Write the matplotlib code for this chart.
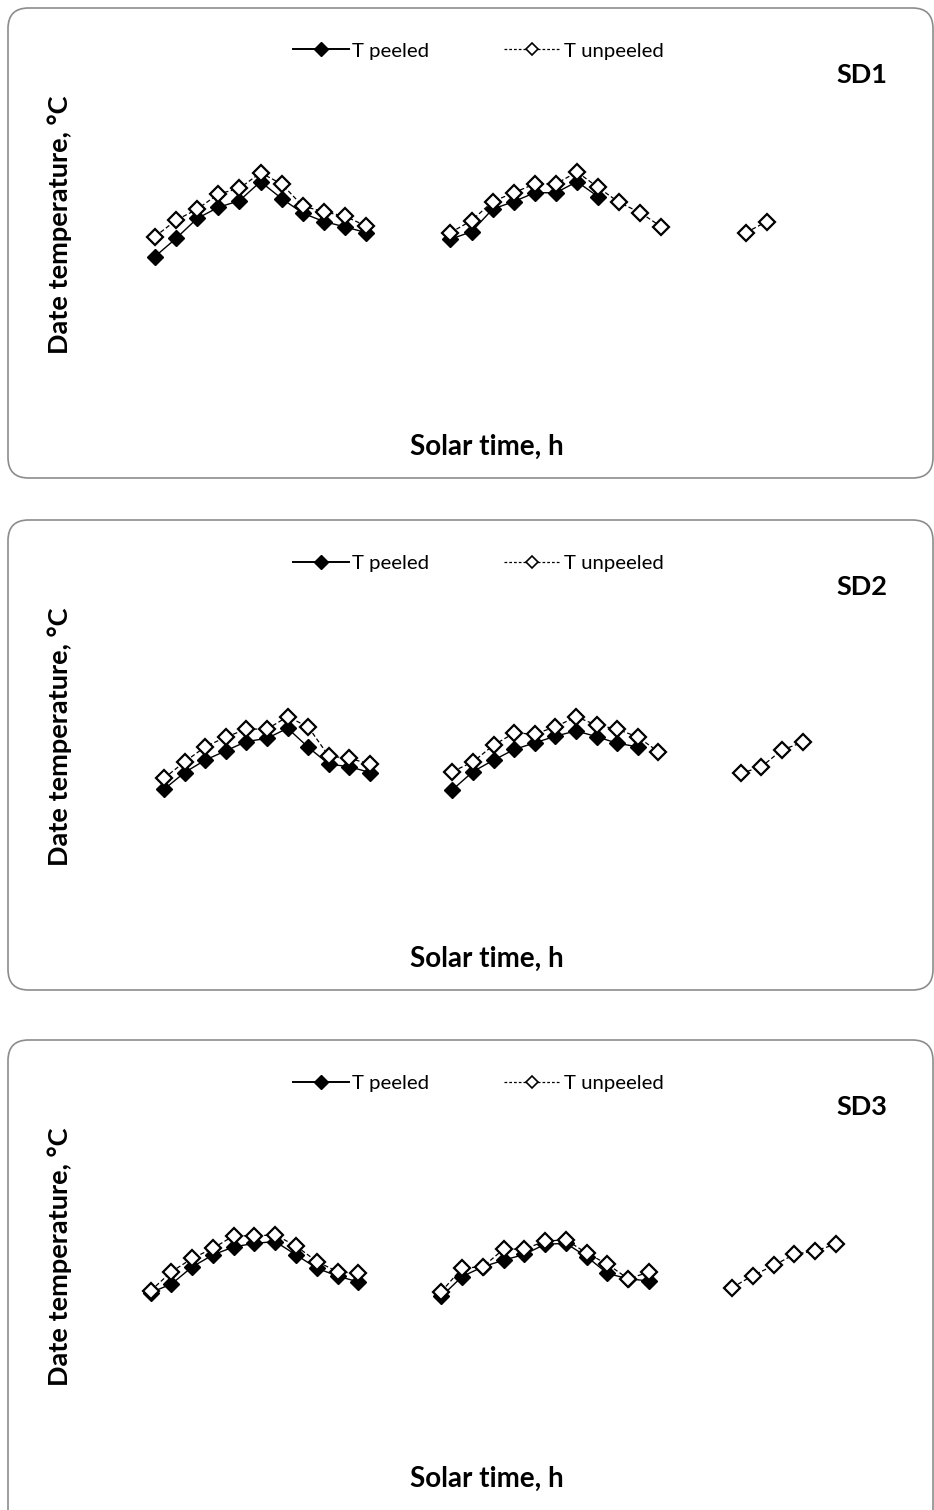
import numpy as np
import matplotlib
matplotlib.use("Agg")
import matplotlib.pyplot as plt
from matplotlib.patches import FancyBboxPatch
from matplotlib.lines import Line2D

plt.rcParams['font.family'] = ['Lato', 'DejaVu Sans']

nan = np.nan

# Hourly solar-time slots: three drying days, blank slots are night hours
n_slots = 34

# SD1
sd1_peeled = [32.4, 36.5, 41.0, 43.5, 45.0, 49.3, 45.5, 42.2, 40.3, 39.1, 37.8,
              nan, nan, nan,
              36.3, 38.0, 43.1, 44.8, 46.8, 46.8, 49.3, 45.9, nan, nan, nan,
              nan, nan, nan,
              nan, nan, nan, nan, nan, nan]
sd1_unpeeled = [36.9, 40.6, 43.1, 46.5, 47.8, 51.3, 48.8, 43.8, 42.5, 41.5, 39.3,
                nan, nan, nan,
                37.8, 40.5, 44.8, 46.8, 48.8, 48.8, 51.5, 48.0, 44.6, 42.3, 39.1,
                nan, nan, nan,
                37.8, 40.3, nan, nan, nan, nan]

# SD2
sd2_peeled = [27.7, 31.5, 34.3, 36.4, 38.5, 39.2, 41.5, 37.2, 33.4, 32.8, 31.5,
              nan, nan, nan,
              27.6, 31.7, 34.3, 36.7, 38.2, 39.7, 40.9, 39.6, 38.1, 37.3, nan,
              nan, nan, nan,
              nan, nan, nan, nan, nan, nan]
sd2_unpeeled = [30.2, 33.9, 37.3, 39.5, 41.3, 41.3, 44.1, 41.8, 35.2, 34.7, 33.4,
                nan, nan, nan,
                31.7, 33.9, 37.7, 40.4, 40.2, 41.8, 44.1, 42.2, 41.3, 39.5, 36.2,
                nan, nan, nan,
                31.3, 32.8, 36.6, 38.3, nan, nan]

# SD3
sd3_peeled = [31.5, 33.4, 37.3, 40.0, 41.8, 42.6, 43.0, 40.0, 37.0, 35.2, 33.9,
              nan, nan, nan,
              30.6, 35.1, 37.3, 38.8, 40.1, 42.4, 42.6, 39.6, 35.8, 34.6, 34.1,
              nan, nan, nan,
              nan, nan, nan, nan, nan, nan]
sd3_unpeeled = [31.9, 36.2, 39.2, 41.5, 44.3, 44.3, 44.5, 42.0, 38.5, 36.2, 35.8,
                nan, nan, nan,
                31.7, 37.0, 37.3, 41.3, 41.3, 43.1, 43.4, 40.4, 37.9, 34.6, 36.1,
                nan, nan, nan,
                32.6, 35.3, 37.6, 40.1, 40.9, 42.4]

panel_names = ["SD1", "SD2", "SD3"]
series_labels = ["T peeled", "T unpeeled"]
y_title = "Date temperature, \u00b0C"
x_title = "Solar time, h"

W, H = 934, 1510
fig = plt.figure(figsize=(W / 100, H / 100), dpi=100)

def fx(px):
    return px / W

def fy(py):
    return 1 - py / H

# panel layout in pixels: box top, box bottom, first-slot x, slot step, plot base y
panels = [
    dict(top=8, bottom=478, x0=155.0, step=21.1, base=400),
    dict(top=520, bottom=990, x0=164.0, step=20.6, base=912),
    dict(top=1040, bottom=1530, x0=150.7, step=20.76, base=1432),
]
data = [(sd1_peeled, sd1_unpeeled), (sd2_peeled, sd2_unpeeled), (sd3_peeled, sd3_unpeeled)]

ymin, ymax = 0, 70
plot_h = 310
xa, xb = -1, 34

peeled_style = dict(color="black", lw=1.0, marker="D", ms=8.5,
                    mfc="black", mec="black", mew=1.0)
unpeeled_style = dict(color="black", lw=0.9, ls=(0, (3.5, 2)), marker="D", ms=8.5,
                      mfc="white", mec="black", mew=1.6)

x = np.arange(n_slots)

for p, name, (pe, un) in zip(panels, panel_names, data):
    # rounded chart frame, kept behind the plot axes
    box = FancyBboxPatch((fx(8), fy(p["bottom"])), fx(925), (p["bottom"] - p["top"]) / H,
                         boxstyle="round,pad=0,rounding_size=0.022",
                         transform=fig.transFigure, fc="white", ec="#8c8c8c", lw=1.2,
                         mutation_aspect=W / H, zorder=-5)
    fig.patches.append(box)

    left = p["x0"] + (xa) * p["step"]
    right = p["x0"] + (xb) * p["step"]
    ax = fig.add_axes([fx(left), fy(p["base"]), fx(right - left), plot_h / H])
    ax.set_xlim(xa, xb)
    ax.set_ylim(ymin, ymax)
    ax.axis("off")
    ax.patch.set_alpha(0)
    ax.set_zorder(2)

    ax.plot(x, pe, **peeled_style, zorder=3)
    ax.plot(x, un, **unpeeled_style, zorder=4)

    leg_pe = dict(peeled_style, lw=1.4, ms=7.5)
    leg_un = dict(unpeeled_style, lw=0.9, ms=6.5, mew=1.2, ls=(0, (2.2, 1.6)))
    handles = [Line2D([], [], **leg_pe), Line2D([], [], **leg_un)]
    fig.legend(handles, series_labels, loc="center",
               bbox_to_anchor=(fx(478), fy(p["top"] + 43)),
               ncol=2, frameon=False, fontsize=14.7, handlelength=2.75,
               columnspacing=3.7, handletextpad=0.15)

    fig.text(fx(887), fy(p["top"] + 67), name, ha="right", va="center",
             fontsize=19.5, fontweight="bold")
    fig.text(fx(60), fy(p["top"] + 217), y_title, rotation=90, ha="center",
             va="center", fontsize=19.5, fontweight="bold")
    fig.text(fx(487), fy(p["top"] + 439), x_title, ha="center", va="center",
             fontsize=20, fontweight="bold")

fig.savefig("out.png", dpi=100)
